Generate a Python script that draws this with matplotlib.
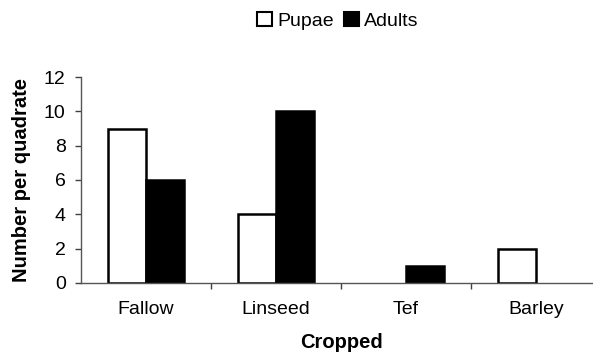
import matplotlib
matplotlib.use("Agg")
import matplotlib.pyplot as plt
from matplotlib.patches import Patch
import numpy as np

plt.rcParams['font.family'] = ['Liberation Sans', 'DejaVu Sans']

crops = ['Fallow', 'Linseed', 'Tef', 'Barley']
pupae = [9, 4, 0, 2]
adults = [6, 10, 1, 0]

fig = plt.figure(figsize=(5.93, 3.6), dpi=100)
# x axis runs past the right edge of the picture, as in the reference
ax = fig.add_axes([0.1366, 0.2139, 0.8769, 0.5722])

x = np.arange(len(crops))
w = 0.29
# zero values are not drawn at all
pm = np.array(pupae) > 0
am = np.array(adults) > 0
ax.bar(x[pm] - w / 2, np.array(pupae)[pm], w, color='white', edgecolor='black', linewidth=1.8)
ax.bar(x[am] + w / 2, np.array(adults)[am], w, color='black', edgecolor='black', linewidth=1.8)

ax.set_xlim(-0.5, 3.5)
ax.set_ylim(0, 12)
ax.set_yticks(range(0, 13, 2))
ax.set_xticks(x)
ax.set_xticklabels(crops)
ax.set_xticks(np.arange(0.5, 3.5, 1), minor=True)
ax.tick_params(axis='x', which='major', length=0, labelsize=14, pad=13)
ax.tick_params(axis='x', which='minor', length=4, width=1, direction='out', color='#404040')
ax.tick_params(axis='y', length=4, width=1, direction='out', labelsize=14, pad=7, color='#404040')

for s in ['top', 'right']:
    ax.spines[s].set_visible(False)
for s in ['left', 'bottom']:
    ax.spines[s].set_color('#555555')
    ax.spines[s].set_linewidth(1.0)

ax.set_ylabel('Number per quadrate', fontsize=14.5, fontweight='bold', labelpad=9)
ax.set_xlabel('Cropped', fontsize=14.5, fontweight='bold', labelpad=11)

handles = [Patch(facecolor='white', edgecolor='black', linewidth=1.5),
           Patch(facecolor='black', edgecolor='black', linewidth=1.5)]
fig.legend(handles, ['Pupae', 'Adults'], loc='center', bbox_to_anchor=(338 / 593, 0.942),
           ncol=2, frameon=False, fontsize=14, handlelength=0.75, handleheight=0.75,
           handletextpad=0.3, columnspacing=0.5, borderpad=0, borderaxespad=0)

fig.savefig('out.png', dpi=100)
